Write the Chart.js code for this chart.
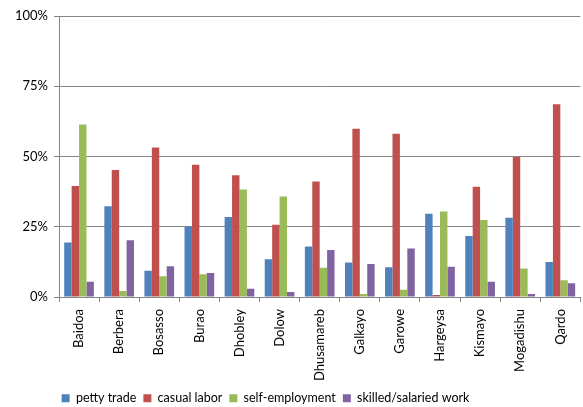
<!DOCTYPE html>
<html><head><meta charset="utf-8">
<script src="https://cdn.jsdelivr.net/npm/chart.js@4"></script>
<style>html,body{margin:0;padding:0;background:#fff}#wrap{width:583px;height:407px}</style>
</head><body><div id="wrap"><canvas id="c" width="583" height="407"></canvas></div>
<script>
const categories = ["Baidoa","Berbera","Bosasso","Burao","Dhobley","Dolow","Dhusamareb","Galkayo","Garowe","Hargeysa","Kismayo","Mogadishu","Qardo"];
const pettyTrade = [19.4,32.3,9.3,25.1,28.5,13.4,18.0,12.3,10.6,29.6,21.7,28.2,12.5];
const casualLabor = [39.5,45.2,53.2,47.1,43.3,25.7,41.1,59.9,58.1,0.7,39.2,49.8,68.6];
const selfEmployment = [61.4,2.1,7.4,8.1,38.3,35.8,10.4,1.1,2.6,30.4,27.4,10.1,6.0];
const skilledWork = [5.4,20.2,10.9,8.5,2.9,1.8,16.7,11.7,17.3,10.8,5.4,1.1,4.9];
const yTicks = [0,25,50,75,100];
const seriesNames = ["petty trade","casual labor","self-employment","skilled/salaried work"];
const colors = ["#4F81BD","#C0504D","#9BBB59","#8064A2"];
const FONT = "Lato, 'Open Sans', sans-serif";
const ds = [pettyTrade,casualLabor,selfEmployment,skilledWork].map((d,i)=>({
  label: seriesNames[i], data: d, backgroundColor: colors[i],
  borderWidth: 0,
  categoryPercentage: 0.74, barPercentage: 1.0
}));
const legendTweak = {
  id: 'legendTweak',
  beforeLayout(chart) {
    const L = chart.legend;
    if (L && !L._tweaked) {
      const orig = L.fit.bind(L);
      L.fit = function () { orig(); this.height = 24; };
      L._tweaked = true;
    }
  },
  afterLayout(chart) {
    const L = chart.legend;
    L.left -= 25; L.right -= 25;
    L.top += 2; L.bottom += 2;
  }
};
new Chart(document.getElementById('c'), {
  type: 'bar',
  data: { labels: categories, datasets: ds },
  plugins: [legendTweak],
  options: {
    responsive: false, animation: false,
    devicePixelRatio: 1,
    layout: { padding: { top: 16, right: 2, left: 0, bottom: 0 } },
    plugins: {
      legend: { position: 'bottom', labels: { boxWidth: 8, boxHeight: 8, padding: 7, color: '#000', font: { family: FONT, size: 12.5 } } },
      tooltip: { enabled: false }
    },
    scales: {
      x: {
        grid: { drawOnChartArea: false, drawTicks: true, tickLength: 5, color: '#868686', offset: true },
        border: { color: '#868686' },
        ticks: { minRotation: 90, maxRotation: 90, color: '#000', font: { family: FONT, size: 13 }, padding: 7 },
        afterFit: (s) => { s.height = 86; }
      },
      y: {
        min: 0, max: 100,
        afterBuildTicks: (s) => { s.ticks = yTicks.map(v => ({ value: v })); },
        grid: { color: '#868686', drawTicks: true, tickLength: 5 },
        border: { color: '#868686' },
        ticks: { callback: v => v + '%', color: '#000', font: { family: FONT, size: 13 }, padding: 6 },
        afterFit: (s) => { s.width = 59; }
      }
    }
  }
});
</script></body></html>
